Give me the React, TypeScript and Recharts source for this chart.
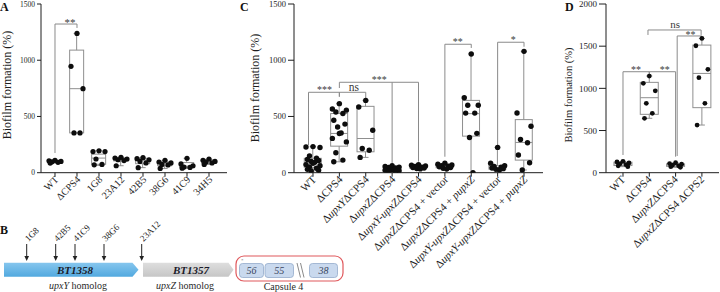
import React from 'react';
import { ComposedChart, Bar, Scatter, Line, XAxis, YAxis, ReferenceArea } from 'recharts';

const SERIF = "'Liberation Serif', 'Times New Roman', Times, serif";
const INK = '#1e1e1e';
const BOX = '#8f8f8f';
const BRACKET = '#8a8a8a';

// ---------------- Panel A ----------------
const aCategories = ['WT', 'ΔCPS4', '1G8', '23A12', '42B5', '38G6', '41C9', '34H5'];
const aPoints = [
  [110, 106, 100, 97, 92, 86],
  [1238, 946, 747, 354, 354],
  [195, 188, 188, 122, 74, 70],
  [137, 130, 122, 115, 108, 62],
  [134, 125, 115, 100, 87, 45],
  [110, 95, 87, 74, 69, 38],
  [128, 78, 62, 50, 47, 40],
  [122, 110, 100, 95, 87, 74],
];
// [min, q1, median, q3, max]
const aBoxes = [
  [86, 92, 99, 107, 110],
  [354, 354, 747, 1090, 1238],
  [65, 75, 130, 165, 195],
  [62, 105, 118, 132, 137],
  [45, 80, 112, 128, 134],
  [38, 62, 80, 95, 110],
  [40, 45, 58, 90, 128],
  [74, 84, 97, 115, 122],
];
const aTicks = [0, 500, 1000, 1500];
const aBrackets = [
  [[0, 175], [0, 1322], [1, 1322], [1, 1287]],
];
const aMarks = [{ x: 0.68, y: 1308, t: '**' }];

// ---------------- Panel C ----------------
const cCategories = [
  'WT', 'ΔCPS4', 'ΔupxYΔCPS4', 'ΔupxZΔCPS4', 'ΔupxY-upxZΔCPS4',
  'ΔupxZΔCPS4 + vector', 'ΔupxZΔCPS4 + pupxZ',
  'ΔupxY-upxZΔCPS4 + vector', 'ΔupxY-upxZΔCPS4 + pupxZ',
];
const cPoints = [
  [232, 228, 224, 150, 130, 118, 108, 100, 92, 84, 72, 62, 52, 40, 30, 22, 15],
  [614, 566, 556, 540, 526, 466, 432, 407, 354, 349, 305, 274, 177, 112, 97],
  [643, 584, 378, 215, 200, 136],
  [62, 55, 50, 46, 42, 38, 35, 32, 28, 25, 22, 18, 15, 12],
  [72, 66, 60, 55, 50, 46, 42, 38, 34],
  [84, 75, 68, 62, 58, 52, 46, 40, 32],
  [1056, 667, 600, 600, 530, 530, 350, 313, 0],
  [225, 85, 62, 55, 48, 42, 36, 30, 24],
  [1079, 531, 413, 295, 266, 157, 88, 24],
];
const cBoxes = [
  [15, 48, 89, 128, 232],
  [97, 236, 349, 526, 614],
  [136, 186, 304, 590, 643],
  [12, 22, 32, 45, 62],
  [34, 40, 50, 62, 72],
  [32, 44, 56, 68, 84],
  [0, 325, 525, 643, 1056],
  [24, 32, 45, 62, 225],
  [24, 112, 269, 472, 1079],
];
const cTicks = [0, 500, 1000, 1500];
const cBrackets = [
  [[-0.17, 246], [-0.17, 715], [1, 715], [1, 676]],
  [[1, 676], [1, 715], [2, 715], [2, 653]],
  [[1, 753], [1, 804], [4, 804], [4, 98]],
  [[3, 804], [3, 84]],
  [[5, 142], [5, 1142], [6, 1142], [6, 1109]],
  [[7, 246], [7, 1160], [8, 1160], [8, 1120]],
];
const cMarks = [
  { x: 0.44, y: 706, t: '***' },
  { x: 1.55, y: 729, t: 'ns' },
  { x: 2.51, y: 795, t: '***' },
  { x: 5.49, y: 1133, t: '**' },
  { x: 7.59, y: 1151, t: '*' },
];

// ---------------- Panel D ----------------
const dCategories = ['WT', 'ΔCPS4', 'ΔupxZΔCPS4', 'ΔupxZΔCPS4 ΔCPS2'];
const dPoints = [
  [135, 128, 115, 105, 95, 82, 72],
  [1146, 1059, 971, 822, 704, 645],
  [118, 108, 100, 90, 82, 72, 64],
  [1592, 1505, 1225, 1126, 822, 565],
];
const dBoxes = [
  [72, 85, 105, 125, 135],
  [645, 692, 889, 1071, 1146],
  [64, 75, 90, 105, 118],
  [565, 771, 1177, 1513, 1592],
];
const dTicks = [0, 500, 1000, 1500, 2000];
const dBrackets = [
  [[0, 210], [0, 1197], [1, 1197], [1, 1170]],
  [[1, 1170], [1, 1197], [2, 1197], [2, 190]],
  [[0.95, 1633], [0.95, 1692], [2.97, 1692], [2.97, 1633]],
  [[2.06, 198], [2.06, 1621], [3, 1621], [3, 1597]],
];
const dMarks = [
  { x: 0.49, y: 1187, t: '**' },
  { x: 1.59, y: 1187, t: '**' },
  { x: 1.98, y: 1712, t: 'ns' },
  { x: 2.57, y: 1602, t: '**' },
];

// ---------------- Panel B (schematic) ----------------
const geneNames = ['BT1358', 'BT1357'];
const geneHomologs = ['upxY', 'upxZ'];
const geneStart = [4, 143];
const geneEnd = [138.5, 233.5];
const geneLabelAt = [75, 191];
const geneHomologAt = [78, 185];
const capsuleGenes = ['56', '55', '38'];
const capsuleStart = [239.5, 265, 309.5];
const capsuleEnd = [263.5, 293.5, 337.5];
const insertionNames = ['1G8', '42B5', '41C9', '38G6', '23A12'];
const insertionPos = [26.7, 55.7, 75, 104, 141.7];

const JIT = [0, -1, 1, -0.5, 0.5, -0.8, 0.8, -0.25, 0.25];
const ITALIC_RE = /(pupxZ|upxY-upxZ|upxY|upxZ)/;

const XTick = (props: any) => {
  const { x, y, payload, cats, fontSize, ax, ay } = props;
  const label: string = cats[Math.round(payload.value)] ?? '';
  const parts = label.split(ITALIC_RE).filter((s) => s.length > 0);
  const px = x + ax;
  const py = y + ay;
  return (
    <text x={px} y={py} textAnchor="end" transform={`rotate(-45, ${px}, ${py})`}
      fontSize={fontSize} fontFamily={SERIF} fill={INK}>
      {parts.map((s, i) => (
        <tspan key={i} fontStyle={ITALIC_RE.test(s) ? 'italic' : 'normal'}>{s}</tspan>
      ))}
    </text>
  );
};

type PanelProps = {
  left: number; width: number; height: number; yAxisWidth: number; marginRight: number;
  xDomain: [number, number]; yMax: number; yTicks: number[];
  categories: string[]; points: number[][]; boxes: number[][];
  brackets: number[][][]; marks: { x: number; y: number; t: string }[];
  boxW: number; spread: number; dotR: number; xFont: number; yFont: number;
  yTickSize: number; ax: number; ay: number; starFont: number; nsFont: number;
};

const AXIS_Y = 172.7;

function BoxPanel(p: PanelProps) {
  const boxData = p.boxes.map((b, i) => ({ x: i, min: b[0], q1: b[1], med: b[2], q3: b[3], max: b[4] }));
  const dots = p.points.flatMap((vals, i) => vals.map((v, k) => ({ x: i, y: v, k })));
  const markData = p.marks.map((m) => ({ ...m }));

  const boxShape = (props: any) => {
    const { x, y, width, height, payload } = props;
    if (!payload || height == null || !isFinite(height)) return <g />;
    const { min, q1, med, q3, max } = payload;
    const cx = x + width / 2;
    const py = (v: number) => y + (height * (max - v)) / (max - min);
    const half = p.boxW / 2;
    const cap = 3;
    return (
      <g stroke={BOX} strokeWidth={1} fill="none">
        <line x1={cx} x2={cx} y1={py(max)} y2={py(q3)} />
        <line x1={cx} x2={cx} y1={py(q1)} y2={py(min)} />
        <line x1={cx - cap} x2={cx + cap} y1={py(max)} y2={py(max)} />
        <line x1={cx - cap} x2={cx + cap} y1={py(min)} y2={py(min)} />
        <rect x={cx - half} y={py(q3)} width={p.boxW} height={Math.max(0.5, py(q1) - py(q3))} />
        <line x1={cx - half} x2={cx + half} y1={py(med)} y2={py(med)} />
      </g>
    );
  };

  const dotShape = (props: any) => {
    const { cx, cy, payload } = props;
    const off = JIT[payload.k % JIT.length] * p.spread;
    return <circle cx={cx + off} cy={cy} r={p.dotR} fill="#0d0d0d" />;
  };

  const markShape = (props: any) => {
    const { cx, cy, payload } = props;
    const isNs = payload.t === 'ns';
    return (
      <text x={cx} y={cy} textAnchor="middle" fontSize={isNs ? p.nsFont : p.starFont}
        fontFamily={SERIF} fill="#3a3a3a">{payload.t}</text>
    );
  };

  return (
    <div style={{ position: 'absolute', left: p.left, top: 0 }}>
      <ComposedChart width={p.width} height={p.height} data={boxData}
        margin={{ top: 4, right: p.marginRight, bottom: 0, left: 0 }}>
        <XAxis type="number" dataKey="x" domain={p.xDomain} allowDataOverflow
          ticks={p.categories.map((_, i) => i)} interval={0}
          height={p.height - AXIS_Y} tickSize={4} tickMargin={2}
          stroke={INK} tickLine={{ stroke: INK }}
          tick={<XTick cats={p.categories} fontSize={p.xFont} ax={p.ax} ay={p.ay} />} />
        <YAxis type="number" dataKey="y" domain={[0, p.yMax]} allowDataOverflow ticks={p.yTicks}
          interval={0} width={p.yAxisWidth} tickSize={p.yTickSize} tickMargin={2}
          stroke={INK} tickLine={{ stroke: INK }}
          tick={{ fontSize: p.yFont, fontFamily: SERIF, fill: INK }} />
        <Bar dataKey={(d: any) => [d.min, d.max]} barSize={p.boxW} shape={boxShape}
          isAnimationActive={false} />
        {p.brackets.map((b, i) => (
          <Line key={i} data={b.map(([x, y]) => ({ x, y }))} dataKey="y" type="linear"
            stroke={BRACKET} strokeWidth={1} dot={false} activeDot={false}
            isAnimationActive={false} />
        ))}
        <Scatter data={dots} dataKey="y" shape={dotShape} isAnimationActive={false} />
        <Scatter data={markData} dataKey="y" shape={markShape} isAnimationActive={false} />
      </ComposedChart>
    </div>
  );
}

function PanelB() {
  const inserts = insertionNames.map((t, i) => ({ x: insertionPos[i], y: 29, t }));
  const geneShape = (i: number) => (props: any) => {
    const { x, y, width, height } = props;
    const tip = i === 0 ? 6 : 5;
    const cy = y + height / 2;
    const pts = `${x},${y} ${x + width - tip},${y} ${x + width},${cy} ${x + width - tip},${y + height} ${x},${y + height}`;
    const id = `geneGrad${i}`;
    const top = i === 0 ? '#86c6ee' : '#dedede';
    const bot = i === 0 ? '#52a9df' : '#c6c6c6';
    return (
      <g>
        <defs>
          <linearGradient id={id} x1="0" y1="0" x2="0" y2="1">
            <stop offset="0%" stopColor={top} />
            <stop offset="100%" stopColor={bot} />
          </linearGradient>
        </defs>
        <polygon points={pts} fill={`url(#${id})`} />
        <text x={geneLabelAt[i]} y={y + height - 3.2} textAnchor="middle" fontSize={11}
          fontWeight="bold" fontStyle="italic" fontFamily={SERIF} fill="#1b1b2a">{geneNames[i]}</text>
        <text x={geneHomologAt[i]} y={y + height + 12.5} textAnchor="middle" fontSize={10}
          fontFamily={SERIF} fill="#2a2a2a">
          <tspan fontStyle="italic">{geneHomologs[i]}</tspan> homolog
        </text>
      </g>
    );
  };
  const capShape = (i: number) => (props: any) => {
    const { x, y, width, height } = props;
    return (
      <g>
        <rect x={x} y={y} width={width} height={height} rx={3} fill="#c9d9ee" stroke="#93abcb" strokeWidth={0.8} />
        <text x={x + width / 2} y={y + height - 3.5} textAnchor="middle" fontSize={10}
          fontStyle="italic" fontFamily={SERIF} fill="#3a4660">{capsuleGenes[i]}</text>
      </g>
    );
  };
  const frameShape = (props: any) => {
    const { x, y, width, height } = props;
    return (
      <g>
        <rect x={x} y={y} width={width} height={height} rx={8} fill="none" stroke="#e0585c" strokeWidth={1.2} />
        <line x1={297} y1={48} x2={300.5} y2={62.5} stroke="#8a8a8a" strokeWidth={1} />
        <line x1={300.5} y1={48} x2={304} y2={62.5} stroke="#8a8a8a" strokeWidth={1} />
        <text x={x + 5} y={y + 5.5} fontSize={5} fontFamily={SERIF} fill="#777">*</text>
        <text x={x + width / 2 - 6} y={y + height + 8.5} textAnchor="middle" fontSize={10}
          fontFamily={SERIF} fill="#2a2a2a">Capsule 4</text>
      </g>
    );
  };
  const insertShape = (props: any) => {
    const { cx, cy, payload } = props;
    return (
      <g>
        <line x1={cx} y1={cy} x2={cx} y2={cy + 13} stroke="#222" strokeWidth={1} />
        <polygon points={`${cx - 2.3},${cy + 12} ${cx + 2.3},${cy + 12} ${cx},${cy + 17}`} fill="#222" />
        <text x={cx + 1.8} y={cy - 2} textAnchor="start" transform={`rotate(-45, ${cx + 1.8}, ${cy - 2})`}
          fontSize={9} fontFamily={SERIF} fill="#222">{payload.t}</text>
      </g>
    );
  };
  return (
    <div style={{ position: 'absolute', left: 0, top: 215 }}>
      <ComposedChart width={350} height={77} margin={{ top: 0, right: 0, bottom: 0, left: 0 }}>
        <XAxis type="number" dataKey="x" domain={[0, 350]} hide allowDataOverflow />
        <YAxis type="number" dataKey="y" domain={[0, 77]} reversed hide allowDataOverflow />
        <ReferenceArea x1={236} x2={343} y1={41} y2={66} shape={frameShape} ifOverflow="visible" />
        {geneNames.map((g, i) => (
          <ReferenceArea key={g} x1={geneStart[i]} x2={geneEnd[i]} y1={47.7} y2={61.7}
            shape={geneShape(i)} ifOverflow="visible" />
        ))}
        {capsuleGenes.map((g, i) => (
          <ReferenceArea key={g} x1={capsuleStart[i]} x2={capsuleEnd[i]} y1={48.5} y2={62.5}
            shape={capShape(i)} ifOverflow="visible" />
        ))}
        <Scatter data={inserts} dataKey="y" shape={insertShape} isAnimationActive={false} />
      </ComposedChart>
    </div>
  );
}

export default function App() {
  return (
    <div style={{ position: 'absolute', left: 0, top: 0, width: 720, height: 292, background: '#fff', overflow: 'hidden' }}>
      <BoxPanel left={0} width={235} height={215} yAxisWidth={41} marginRight={8}
        xDomain={[-0.636, 7.818]} yMax={1500} yTicks={aTicks}
        categories={aCategories} points={aPoints} boxes={aBoxes} brackets={aBrackets} marks={aMarks}
        boxW={14} spread={6} dotR={2.6} xFont={10} yFont={7.5} yTickSize={4} ax={4} ay={1.5}
        starFont={11} nsFont={11} />
      <BoxPanel left={240} width={310} height={292} yAxisWidth={54} marginRight={7}
        xDomain={[-0.72, 8.72]} yMax={1500} yTicks={cTicks}
        categories={cCategories} points={cPoints} boxes={cBoxes} brackets={cBrackets} marks={cMarks}
        boxW={17} spread={7} dotR={2.7} xFont={11} yFont={8.5} yTickSize={6} ax={4} ay={1.5}
        starFont={10} nsFont={11.5} />
      <BoxPanel left={560} width={160} height={292} yAxisWidth={46} marginRight={1}
        xDomain={[-0.646, 3.65]} yMax={2000} yTicks={dTicks}
        categories={dCategories} points={dPoints} boxes={dBoxes} brackets={dBrackets} marks={dMarks}
        boxW={18} spread={6} dotR={2.4} xFont={11} yFont={9} yTickSize={7} ax={3} ay={1.5}
        starFont={10} nsFont={11} />
      <PanelB />
      <svg width={720} height={292} style={{ position: 'absolute', left: 0, top: 0, pointerEvents: 'none' }}>
        <g fontFamily={SERIF} fontWeight="bold" fontSize={12} fill="#111">
          <text x={0} y={11}>A</text>
          <text x={0} y={234}>B</text>
          <text x={240} y={11}>C</text>
          <text x={565} y={11}>D</text>
        </g>
        <g fontFamily={SERIF} fill={INK}>
          <text x={7} y={85} transform="rotate(-90, 7, 85)" textAnchor="middle" dominantBaseline="central" fontSize={12}>Biofilm formation (%)</text>
          <text x={255} y={88} transform="rotate(-90, 255, 88)" textAnchor="middle" dominantBaseline="central" fontSize={12}>Biofilm formation (%)</text>
          <text x={568} y={95} transform="rotate(-90, 568, 95)" textAnchor="middle" dominantBaseline="central" fontSize={10.5}>Biofilm formation (%)</text>
        </g>
      </svg>
    </div>
  );
}
